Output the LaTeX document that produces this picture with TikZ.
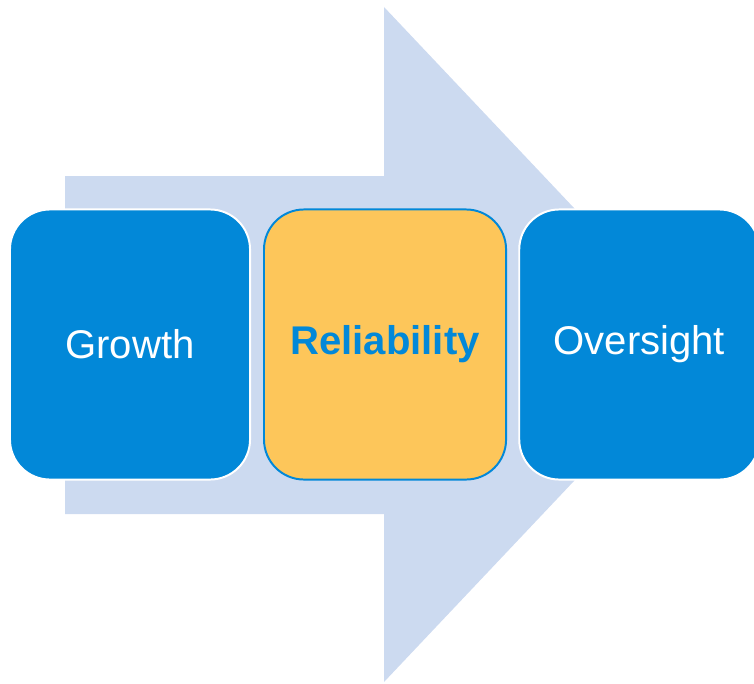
\documentclass[tikz,border=0pt]{standalone}
\usepackage{fontspec}
\setmainfont{Liberation Sans}
\usetikzlibrary{positioning}
\definecolor{stageblue}{HTML}{0288D8}
\definecolor{flowback}{HTML}{CCDAF0}
\definecolor{focus}{HTML}{FDC65A}

\begin{document}
\begin{tikzpicture}[
    x=0.025cm, y=-0.025cm,
    stage/.style={draw=white, line width=1.4pt, rounded corners=1cm, fill=stageblue, text=white,
        minimum width=6cm, minimum height=6.75cm, font=\fontsize{28.5}{34}\selectfont},
    keystage/.style={stage, draw=stageblue, fill=focus, text=stageblue, minimum width=6.05cm,
        font=\fontsize{28.5}{34}\selectfont\bfseries},
]
\useasboundingbox (0,0) rectangle (754,683);

% Background arrow
\fill[flowback] (65,176) -- (384,176) -- (384,7) -- (703,344.5)
    -- (384,682) -- (384,514) -- (65,514) -- cycle;

% Stages
\node[stage] (growth) at (130,344.5) {Growth};
\node[keystage, right=0.3cm of growth] (reliab) {Reliability};
\node[stage, right=0.28cm of reliab] (oversight) {Oversight};

\end{tikzpicture}
\end{document}
